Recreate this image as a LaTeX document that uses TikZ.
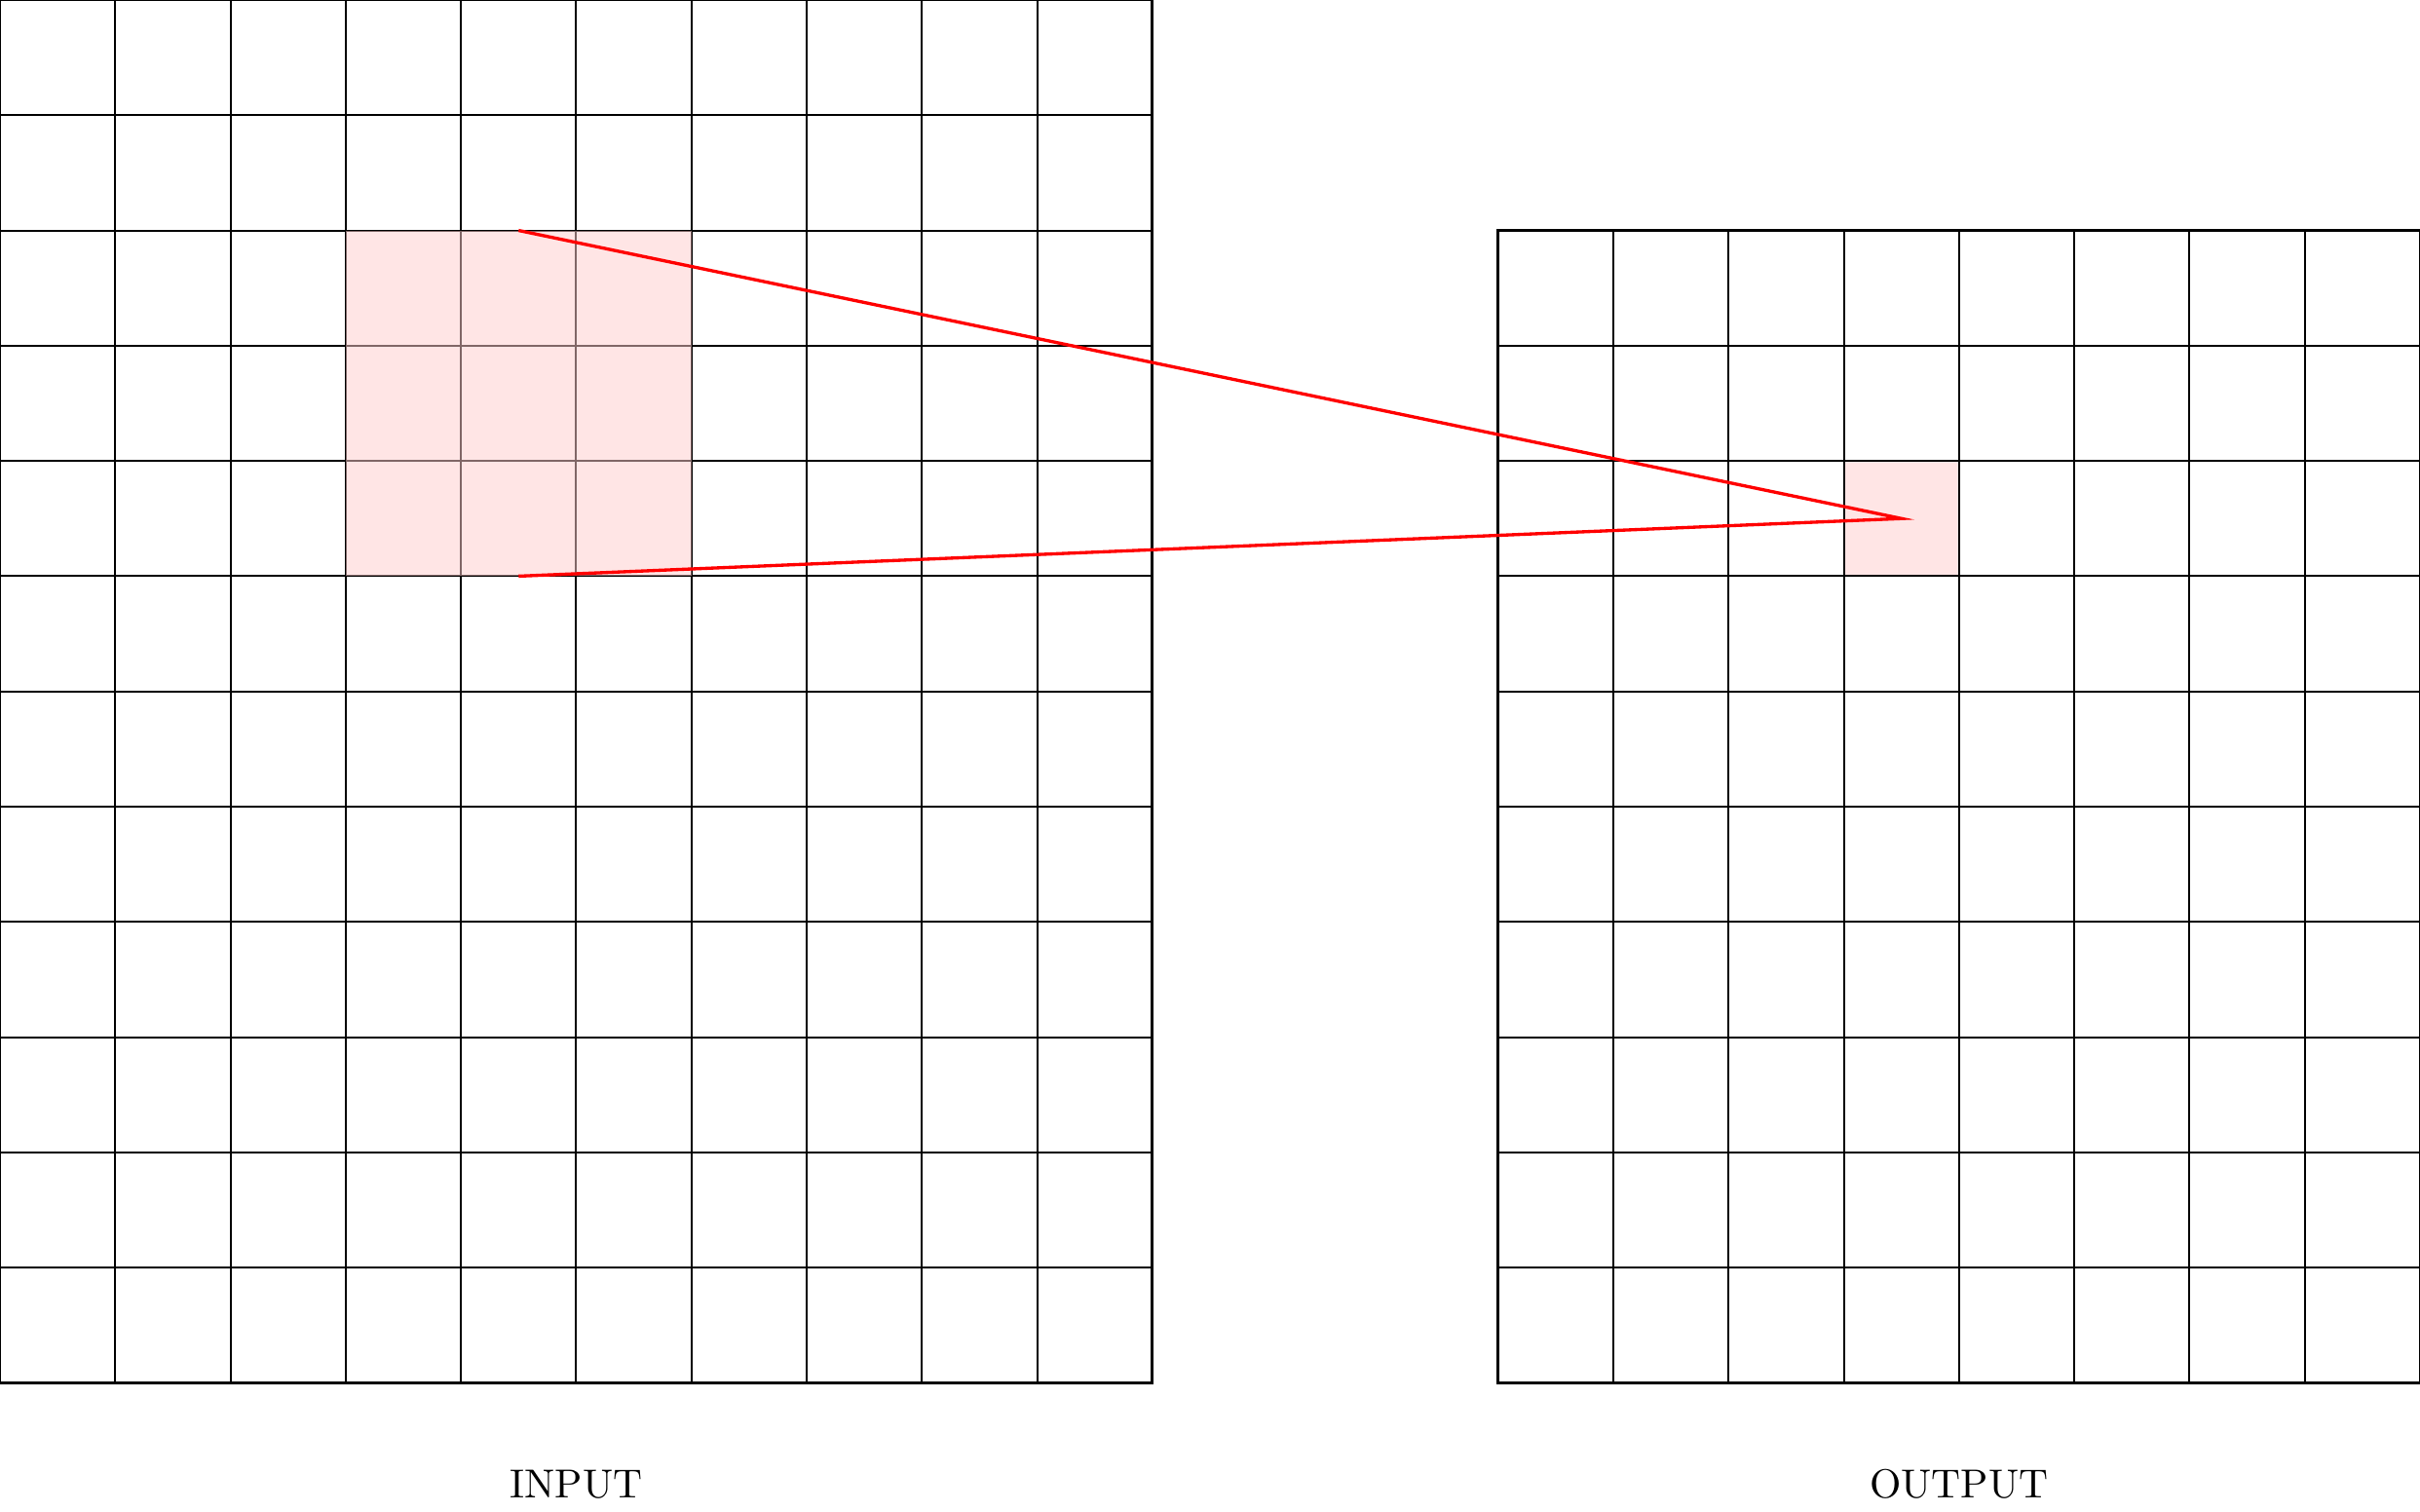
\documentclass[tikz,border=0pt]{standalone}
\usepackage{tikz}
\usetikzlibrary{positioning}

\begin{document}
\begin{tikzpicture}[
  cellgrid/.style={line width=0.5pt, black},
  frame/.style={draw, line width=0.7pt},
  window/.style={fill=red!20, fill opacity=0.5},
  target/.style={fill=red!10},
  link/.style={draw=red, line width=0.8pt},
  label/.style={font=\normalsize}
]
\useasboundingbox (0,-1.117) rectangle (21,12);
% output cell, drawn under the grid
\fill[target] (16,7) rectangle (17,8);
% the two grids
\draw[cellgrid] (0,0) grid (10,12);
\draw[frame] (0,0) rectangle (10,12);
\draw[cellgrid] (13,0) grid (21,10);
\draw[frame] (13,0) rectangle (21,10);
% 3x3 receptive field on the input
\fill[window] (3,7) rectangle (6,10);
\coordinate (ktop) at (4.5,10);
\coordinate (kbot) at (4.5,7);
\coordinate (tip)  at (16.5,7.5);
\draw[link] (ktop) -- (tip) -- (kbot);
% captions
\node[label] (in)  at (5,-0.88)  {INPUT};
\node[label] (out) at (17,-0.88) {OUTPUT};
\end{tikzpicture}
\end{document}
